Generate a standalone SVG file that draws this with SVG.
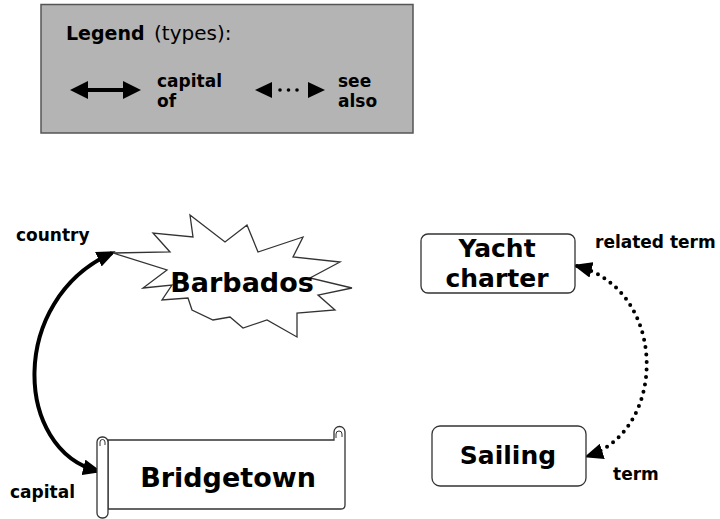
<svg xmlns="http://www.w3.org/2000/svg" width="720" height="519" viewBox="0 0 720 519">
  <style>
    .lbl { font-family: "DejaVu Sans", Verdana, sans-serif; font-weight: bold; font-size: 17px; fill: #000; }
    .name { font-family: "DejaVu Sans", Verdana, sans-serif; font-weight: bold; font-size: 25px; fill: #000; text-anchor: middle; }
    .big { font-size: 27px; }
    .box { fill: #fff; stroke: #333; stroke-width: 1.3; }
    .solid { fill: none; stroke: #000; stroke-width: 4; }
    .dotted { fill: none; stroke: #000; stroke-width: 4; stroke-linecap: round; stroke-dasharray: 0 7.5; }
  </style>
  <defs>
    <marker id="head" markerUnits="userSpaceOnUse" markerWidth="20" markerHeight="16" refX="15" refY="8" orient="auto-start-reverse">
      <path d="M0,0 L19,8 L0,16 Z" fill="#000"/>
    </marker>
  </defs>
  <rect width="720" height="519" fill="#fff"/>

  <!-- legend panel -->
  <g id="legend">
    <rect x="41" y="4.5" width="372" height="128.5" fill="#b4b4b4" stroke="#555" stroke-width="1.5"/>
    <text x="66" y="40" font-family="DejaVu Sans, Verdana, sans-serif" font-size="19" font-weight="bold">Legend</text>
    <text x="154" y="40" font-family="DejaVu Sans, Verdana, sans-serif" font-size="20">(types):</text>
    <line x1="85" y1="90" x2="126" y2="90" stroke="#000" stroke-width="4"/>
    <polygon points="70,90 88,81 88,99" fill="#000"/>
    <polygon points="141,90 123,81 123,99" fill="#000"/>
    <text class="lbl" x="157" y="87">capital</text>
    <text class="lbl" x="157" y="107">of</text>
    <polygon points="255,90 272,82 272,98" fill="#000"/>
    <circle cx="280" cy="90" r="1.8"/>
    <circle cx="288.5" cy="90" r="1.8"/>
    <circle cx="297" cy="90" r="1.8"/>
    <polygon points="325,90 308,82 308,98" fill="#000"/>
    <text class="lbl" x="338" y="87">see</text>
    <text class="lbl" x="338" y="107">also</text>
  </g>

  <!-- connectors -->
  <g id="connectors">
    <path class="solid" d="M98,471 C14,450 8,300 112,253" marker-start="url(#head)" marker-end="url(#head)"/>
    <path class="dotted" d="M577,266 C668,290 668,430 588,456" marker-start="url(#head)" marker-end="url(#head)"/>
    <text class="lbl" x="16" y="241">country</text>
    <text class="lbl" x="10" y="498">capital</text>
    <text class="lbl" x="595" y="248">related term</text>
    <text class="lbl" x="613" y="480">term</text>
  </g>

  <!-- starburst node -->
  <g id="barbados">
    <polygon class="box" stroke-width="1" points="190,215 225,242 247,225 258,252 303,237 293,257 340,262 310,278 352,288 318,295 335,310 297,313 297,337 267,320 243,328 230,317 213,320 192,310 188,298 162,300 172,285 143,288 167,270 113,253 170,252 153,233 193,237"/>
    <text class="name big" x="242" y="292">Barbados</text>
  </g>

  <!-- scroll node -->
  <g id="bridgetown">
    <path class="box" d="M108,440 H334 V432 A5.5,5.5 0 0 1 345,432 V505 Q345,509 341,509 H108 Z"/>
    <path fill="none" stroke="#333" stroke-width="1" d="M336,438 V434 A3,3 0 0 1 342,434 V437"/>
    <rect class="box" x="97" y="437" width="11" height="81" rx="5"/>
    <path fill="none" stroke="#333" stroke-width="1" d="M100,446 V442 A2.5,2.5 0 0 1 105,442 V445"/>
    <text class="name big" x="228" y="487">Bridgetown</text>
  </g>

  <!-- rounded boxes -->
  <g id="yacht-charter">
    <rect class="box" x="421" y="234" width="154" height="59" rx="7"/>
    <text class="name" x="497" y="257">Yacht</text>
    <text class="name" x="497" y="287">charter</text>
  </g>
  <g id="sailing">
    <rect class="box" x="432" y="426" width="154" height="60" rx="8"/>
    <text class="name" x="508" y="464">Sailing</text>
  </g>
</svg>
